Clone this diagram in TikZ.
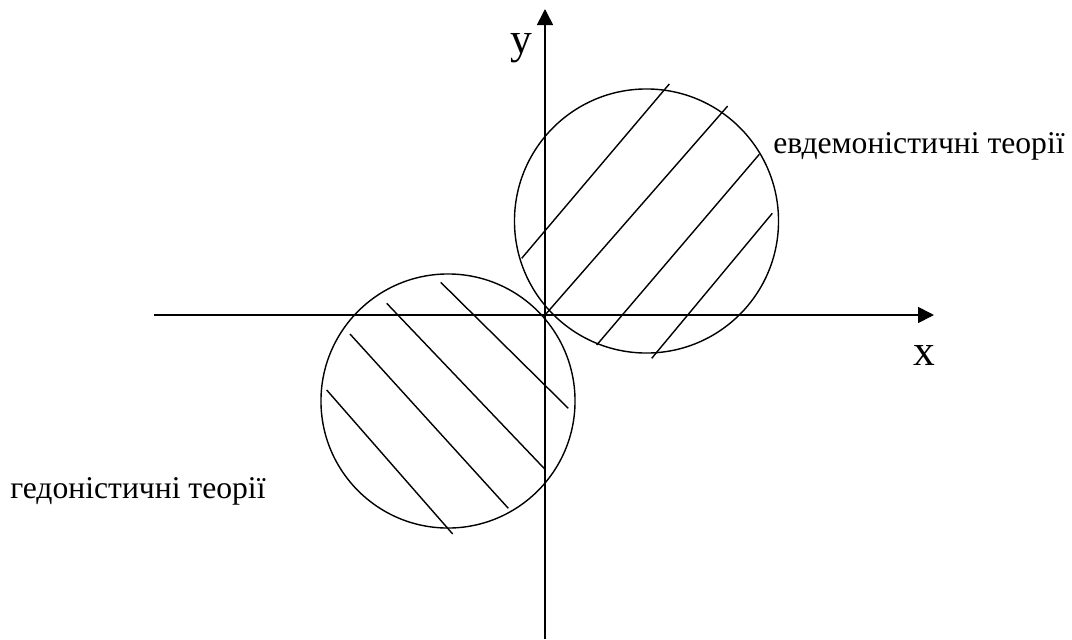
\documentclass[tikz,border=0pt]{standalone}
\usepackage{fontspec}
\setmainfont{Liberation Serif}
\usetikzlibrary{arrows.meta}

\begin{document}
\begin{tikzpicture}[x=0.025cm,y=-0.025cm,
   axis/.style={line width=1.2pt,-{Triangle[length=0.4cm,width=0.4cm]}},
   hatch/.style={line width=1pt},
   lbl/.style={font=\fontsize{22.5}{27}\selectfont,anchor=base west,inner sep=0pt},
   axlbl/.style={font=\fontsize{31}{36}\selectfont,anchor=base,inner sep=0pt}]
   \useasboundingbox (0,0) rectangle (1072,639);
   % axes
   \coordinate (O) at (545,315);
   \coordinate (xl) at (154,315);
   \coordinate (xr) at (934,315);
   \coordinate (yb) at (545,639);
   \coordinate (yt) at (545,9);
   \draw[axis] (xl) -- (xr);
   \draw[axis] (yb) -- (yt);
   \node[axlbl] (ylab) at (521,53) {y};
   \node[axlbl] (xlab) at (924,365) {x};
   % circles
   \node[draw,circle,line width=1pt,minimum size=6.6cm,inner sep=0pt] (up) at (646.5,221) {};
   \node[draw,circle,line width=1pt,minimum size=6.35cm,inner sep=0pt] (low) at (448,401) {};
   % hatching
   \draw[hatch] (521.7,258.3) -- (669.3,84)
                (545,315) -- (727.7,106)
                (596.7,345) -- (759.3,154.3)
                (651.7,358.3) -- (772.3,213.3);
   \draw[hatch] (440.7,282.3) -- (568.3,408.3)
                (386.7,303.3) -- (545,469.3)
                (350,334) -- (508.3,508.3)
                (326.7,390) -- (452.7,534);
   % labels
   \node[lbl] (evd) at (773,153) {евдемоністичні теорії};
   \node[lbl] (hed) at (10,498) {гедоністичні теорії};
\end{tikzpicture}
\end{document}
